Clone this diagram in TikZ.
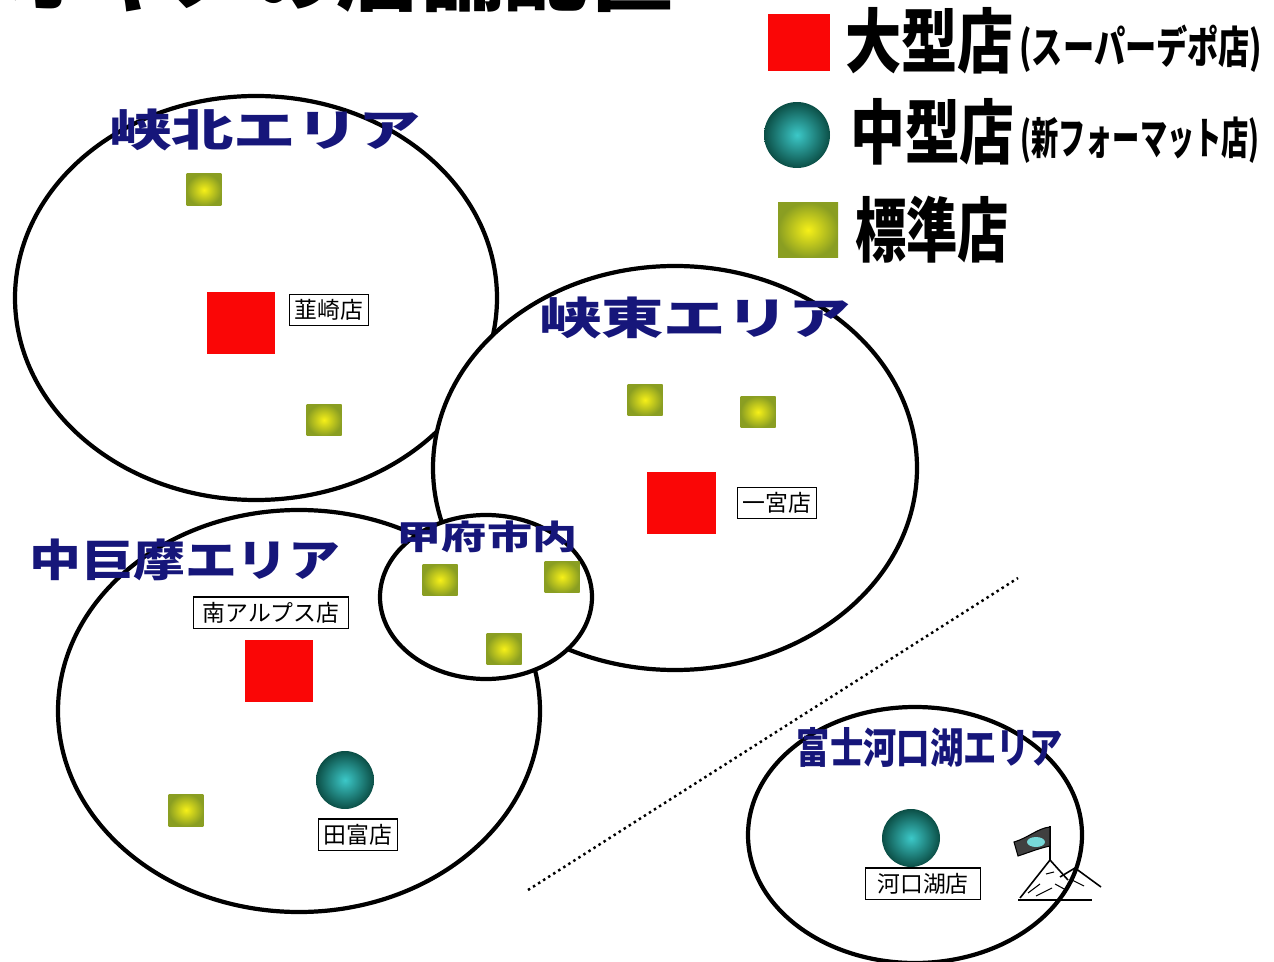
\documentclass[tikz,border=0pt]{standalone}
\usepackage{fontspec}
\newfontfamily\jpfont{Noto Sans CJK JP}
\usetikzlibrary{positioning,shapes.geometric}
\definecolor{areablue}{RGB}{22,22,122}
\definecolor{storered}{RGB}{250,6,6}
\definecolor{midteal}{RGB}{16,112,100}
\definecolor{midcyan}{RGB}{60,200,200}
\definecolor{stdgreen}{RGB}{138,158,34}
\definecolor{stdyellow}{RGB}{246,240,24}

\begin{document}
\begin{tikzpicture}[x=0.02cm, y=-0.02cm,
	areaedge/.style={line width=2.4pt, fill=white},
	areatitle/.style={font=\jpfont\bfseries\fontsize{25}{25}\selectfont, text=areablue, inner sep=0pt},
	bigstore/.style={rectangle, fill=storered, minimum width=1.38cm, minimum height=1.26cm, inner sep=0pt},
	midstore/.style={circle, minimum size=1.16cm, inner sep=0pt, inner color=midcyan, outer color=midteal!70!black},
	stdstore/.style={rectangle, minimum width=0.7cm, minimum height=0.64cm, inner sep=0pt, inner color=stdyellow, outer color=stdgreen},
	shoplabel/.style={draw, line width=0.7pt, font=\jpfont\fontsize{13}{13}\selectfont, inner xsep=3pt, inner ysep=3pt},
	legendtext/.style={font=\jpfont\bfseries\fontsize{40}{40}\selectfont, inner sep=0pt, anchor=west},
	legendnote/.style={font=\jpfont\bfseries\fontsize{25}{25}\selectfont, inner sep=0pt, anchor=base west}]

	\fill[white] (0,0) rectangle (1274,962);
	\useasboundingbox (0,0) rectangle (1274,962);

	\begin{scope}
		\clip (0,0) rectangle (1274,962);
		\node[font=\jpfont\bfseries\fontsize{48}{48}\selectfont, inner sep=0pt, anchor=south west] (title) at (2,13) {オギノの店舗配置};
	\end{scope}

	% areas
	\filldraw[areaedge] (256,298) ellipse [x radius=241, y radius=202];
	\filldraw[areaedge] (675,468) ellipse [x radius=242, y radius=202];
	\filldraw[areaedge] (299,711) ellipse [x radius=241, y radius=201];
	\filldraw[areaedge] (486,597) ellipse [x radius=106, y radius=82];
	\filldraw[areaedge] (915,835) ellipse [x radius=167, y radius=128];

	\coordinate (divS) at (528,890);
	\coordinate (divN) at (1018,578);
	\draw[dotted, line width=1.4pt] (divS) -- (divN);

	% big stores
	\node[bigstore] (nirasakiBig)   at (241,323) {};
	\node[bigstore] (ichinomiyaBig) at (681,503) {};
	\node[bigstore] (minamiBig)     at (279,671) {};

	% mid stores
	\node[midstore] (tatomiMid)   at (345,780) {};
	\node[midstore] (kawaguchiMid) at (911,838) {};

	% standard stores
	\foreach \p [count=\i] in {(204,190), (324,420), (645,400), (758,412), (440,580), (562,577), (504,649), (186,810)}
		\node[stdstore] (std\i) at \p {};

	\node[shoplabel] (nirasakiL) [right=0.26cm of nirasakiBig, yshift=0.26cm] {韮崎店};
	\node[shoplabel] (ichinomiyaL) [right=0.42cm of ichinomiyaBig] {一宮店};
	\node[shoplabel, minimum width=3.1cm] (minamiL) [above=0.2cm of minamiBig, xshift=-0.16cm] {南アルプス店};
	\node[shoplabel] (tatomiL) [below=0.18cm of tatomiMid, xshift=0.26cm] {田富店};
	\node[shoplabel, minimum width=2.3cm] (kawaguchiL) [below=0cm of kawaguchiMid, xshift=0.24cm] {河口湖店};

	% area names
	\node[areatitle, xscale=1.42] (kyohokuT) at (265,130) {峡北エリア};
	\node[areatitle, xscale=1.42] (kyotoT) at (695,318) {峡東エリア};
	\node[areatitle, xscale=1.18] (nakakomaT) at (185,560) {中巨摩エリア};
	\node[areatitle, font=\jpfont\bfseries\fontsize{19}{19}\selectfont, xscale=1.35] (kofuT) at (487,537) {甲府市内};
	\node[areatitle, font=\jpfont\bfseries\fontsize{24}{24}\selectfont, xscale=0.79] (fujiT) at (930,748) {富士河口湖エリア};

	% mountain with flag
	\draw[line width=0.9pt] (1020,898) -- (1050,860) -- (1068,880);
	\draw[line width=0.9pt] (1060,877) -- (1075,868) -- (1101,887);
	\draw[line width=0.6pt] (1028,893) -- (1040,884) (1036,896) -- (1052,888) (1055,884) -- (1066,890) (1072,880) -- (1084,886) (1046,874) -- (1054,872);
	\draw[line width=0.6pt] (1018,900) -- (1092,900);
	\draw[line width=1pt] (1050,860) -- (1050,826);
	\filldraw[fill=black!75, line width=0.6pt] (1050,827) .. controls (1038,828) and (1028,838) .. (1014,842) -- (1018,856) .. controls (1030,852) and (1040,848) .. (1050,846) -- cycle;
	\fill[midcyan!70!white] (1036,842) ellipse [x radius=9, y radius=5];

	% legend
	\node[bigstore, minimum width=1.24cm, minimum height=1.14cm] (legBig) at (799,43) {};
	\node[midstore, minimum size=1.32cm] (legMid) at (797,135) {};
	\node[stdstore, minimum width=1.2cm, minimum height=1.1cm] (legStd) at (808,230) {};
	\node[legendtext, xscale=0.8] (legBigT) at (845,41) {大型店};
	\node[legendnote, xscale=0.71] (legBigN) at ([xshift=0.1cm, yshift=0.08cm]legBigT.base east) {(スーパーデポ店)};
	\node[legendtext, xscale=0.78] (legMidT) at (850,132) {中型店};
	\node[legendnote, xscale=0.62] (legMidN) at ([xshift=0.1cm, yshift=0.08cm]legMidT.base east) {(新フォーマット店)};
	\node[legendtext, xscale=0.73] (legStdT) at (855,230) {標準店};
\end{tikzpicture}
\end{document}
